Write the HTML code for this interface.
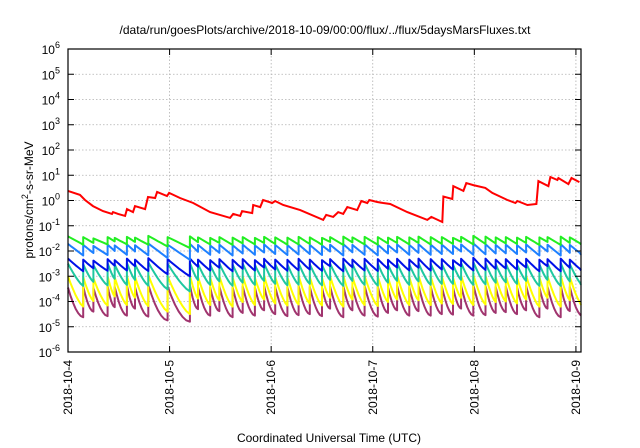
<!DOCTYPE html>
<html><head><meta charset="utf-8"><style>
html,body{margin:0;padding:0;background:#fff}
svg{display:block;font-family:"Liberation Sans",sans-serif}
</style></head><body>
<svg id="chart" width="640" height="448" viewBox="0 0 640 448">
<text x="325" y="34" font-size="12" text-anchor="middle">/data/run/goesPlots/archive/2018-10-09/00:00/flux/../flux/5daysMarsFluxes.txt</text>
<text x="329" y="442" font-size="12" text-anchor="middle">Coordinated Universal Time (UTC)</text>
<text transform="translate(33,200) rotate(-90)" font-size="12" text-anchor="middle">protons/cm<tspan dy="-5" font-size="9">2</tspan><tspan dy="5">-s-sr-MeV</tspan></text>
<g id="grid"></g>
<g id="series"></g>
<g id="axes"></g>
</svg>
<script>
const xTickLabels = ["2018-10-4","2018-10-5","2018-10-6","2018-10-7","2018-10-8","2018-10-9"];
const yTickExps = [-6,-5,-4,-3,-2,-1,0,1,2,3,4,5,6];
const redDays = [0,.118,.167,.246,.345,.433,.443,.493,.562,.581,.640,.660,.759,.788,.857,.877,.975,.995,1.103,1.232,1.399,1.596,1.626,1.695,1.714,1.813,1.823,1.892,1.921,2.010,2.039,2.118,2.286,2.512,2.542,2.611,2.660,2.709,2.749,2.847,2.887,2.946,2.966,3.044,3.103,3.172,3.340,3.537,3.576,3.685,3.695,3.783,3.793,3.892,3.921,3.990,4.108,4.177,4.325,4.404,4.424,4.522,4.611,4.631,4.729,4.749,4.818,4.828,4.926,4.956,5.034];
const redLog = [.38,.22,.02,-.22,-.42,-.53,-.46,-.53,-.61,-.34,-.46,-.22,-.34,.14,.10,.34,.18,.30,.10,-.10,-.46,-.69,-.53,-.61,-.42,-.50,-.18,-.26,.02,-.10,-.02,-.18,-.38,-.77,-.57,-.65,-.46,-.53,-.26,-.38,-.02,-.10,.02,-.06,-.10,-.14,-.46,-.77,-.65,-.85,.16,.06,.57,.38,.69,.61,.50,.30,.02,-.10,-.02,-.18,-.14,.77,.57,.93,.81,.89,.65,.89,.73];
const jumpDays = [0.0,0.15,0.25,0.39,0.46,0.58,0.66,0.79,0.98,1.20,1.28,1.40,1.49,1.62,1.72,1.84,1.93,2.04,2.16,2.27,2.38,2.50,2.58,2.71,2.80,2.92,3.05,3.15,3.24,3.36,3.45,3.57,3.68,3.79,3.87,3.99,4.11,4.21,4.31,4.42,4.51,4.64,4.72,4.85,4.94];
const endDay = 5.06;
const greenPeak = [-1.42,-1.45,-1.50,-1.45,-1.48,-1.44,-1.47,-1.40,-1.45,-1.42,-1.46,-1.48,-1.45,-1.47,-1.45,-1.48,-1.44,-1.46,-1.47,-1.44,-1.46,-1.48,-1.45,-1.43,-1.46,-1.44,-1.45,-1.47,-1.44,-1.46,-1.43,-1.45,-1.45,-1.48,-1.44,-1.40,-1.43,-1.46,-1.45,-1.47,-1.44,-1.46,-1.45,-1.43,-1.46];
const greenTrough = [-1.75,-1.68,-1.74,-1.62,-1.74,-1.64,-1.75,-1.82,-1.88,-1.65,-1.74,-1.68,-1.76,-1.70,-1.74,-1.68,-1.72,-1.75,-1.74,-1.72,-1.75,-1.64,-1.76,-1.66,-1.74,-1.75,-1.70,-1.68,-1.74,-1.68,-1.74,-1.72,-1.72,-1.64,-1.74,-1.72,-1.70,-1.70,-1.72,-1.68,-1.76,-1.64,-1.76,-1.68,-1.74];
const lblPeak = [-1.72,-1.76,-1.80,-1.75,-1.78,-1.74,-1.77,-1.70,-1.75,-1.72,-1.76,-1.78,-1.75,-1.77,-1.75,-1.78,-1.74,-1.76,-1.77,-1.74,-1.76,-1.78,-1.75,-1.73,-1.76,-1.74,-1.75,-1.77,-1.74,-1.76,-1.73,-1.75,-1.75,-1.78,-1.74,-1.70,-1.73,-1.76,-1.75,-1.77,-1.74,-1.76,-1.75,-1.73,-1.76];
const lblTrough = [-2.18,-2.08,-2.16,-2.00,-2.15,-2.02,-2.17,-2.28,-2.35,-2.03,-2.15,-2.07,-2.18,-2.10,-2.15,-2.06,-2.12,-2.16,-2.14,-2.12,-2.16,-2.02,-2.18,-2.05,-2.15,-2.17,-2.10,-2.06,-2.15,-2.07,-2.15,-2.12,-2.12,-2.02,-2.15,-2.13,-2.10,-2.09,-2.12,-2.06,-2.18,-2.02,-2.18,-2.07,-2.15];
const dbPeak = [-2.30,-2.34,-2.38,-2.32,-2.36,-2.30,-2.34,-2.28,-2.33,-2.30,-2.34,-2.36,-2.32,-2.35,-2.32,-2.36,-2.31,-2.34,-2.35,-2.31,-2.34,-2.36,-2.32,-2.30,-2.34,-2.31,-2.32,-2.35,-2.31,-2.34,-2.30,-2.32,-2.32,-2.36,-2.31,-2.27,-2.30,-2.34,-2.32,-2.35,-2.31,-2.34,-2.32,-2.30,-2.34];
const dbTrough = [-2.80,-2.68,-2.78,-2.58,-2.77,-2.60,-2.79,-2.92,-3.00,-2.62,-2.77,-2.66,-2.80,-2.70,-2.77,-2.65,-2.73,-2.78,-2.76,-2.73,-2.78,-2.60,-2.80,-2.64,-2.77,-2.79,-2.70,-2.65,-2.77,-2.66,-2.77,-2.73,-2.73,-2.60,-2.77,-2.75,-2.70,-2.69,-2.73,-2.65,-2.80,-2.60,-2.80,-2.66,-2.77];
const tealPeak = [-2.50,-2.52,-2.56,-2.48,-2.54,-2.47,-2.52,-2.45,-2.50,-2.47,-2.52,-2.54,-2.50,-2.53,-2.50,-2.54,-2.48,-2.52,-2.53,-2.48,-2.52,-2.54,-2.50,-2.47,-2.52,-2.48,-2.50,-2.53,-2.48,-2.52,-2.47,-2.50,-2.50,-2.54,-2.48,-2.44,-2.47,-2.52,-2.50,-2.53,-2.48,-2.52,-2.50,-2.47,-2.52];
const tealTrough = [-3.38,-3.22,-3.36,-3.10,-3.34,-3.14,-3.37,-3.52,-3.60,-3.15,-3.34,-3.20,-3.38,-3.25,-3.34,-3.18,-3.30,-3.36,-3.33,-3.30,-3.36,-3.14,-3.38,-3.18,-3.34,-3.37,-3.25,-3.18,-3.34,-3.20,-3.34,-3.30,-3.30,-3.14,-3.34,-3.32,-3.25,-3.24,-3.30,-3.18,-3.38,-3.14,-3.38,-3.20,-3.34];
const yelPeak = [-3.00,-3.03,-3.08,-3.00,-3.05,-2.98,-3.03,-2.95,-3.00,-2.97,-3.03,-3.05,-3.00,-3.04,-3.00,-3.05,-2.98,-3.03,-3.04,-2.98,-3.03,-3.05,-3.00,-2.97,-3.03,-2.98,-3.00,-3.04,-2.98,-3.03,-2.97,-3.00,-3.00,-3.05,-2.98,-2.94,-2.97,-3.03,-3.00,-3.04,-2.98,-3.03,-3.00,-2.97,-3.03];
const yelTrough = [-4.20,-3.98,-4.16,-3.80,-4.14,-3.85,-4.18,-4.40,-4.50,-3.88,-4.14,-3.95,-4.20,-4.02,-4.14,-3.92,-4.08,-4.16,-4.12,-4.08,-4.16,-3.85,-4.20,-3.92,-4.14,-4.18,-4.02,-3.92,-4.14,-3.95,-4.14,-4.08,-4.10,-3.85,-4.14,-4.12,-4.02,-4.00,-4.08,-3.92,-4.20,-3.85,-4.20,-3.95,-4.14];
const purPeak = [-3.45,-3.40,-3.46,-3.38,-3.42,-3.36,-3.42,-3.34,-3.40,-3.36,-3.42,-3.44,-3.40,-3.43,-3.40,-3.44,-3.37,-3.42,-3.43,-3.37,-3.42,-3.44,-3.40,-3.36,-3.42,-3.37,-3.40,-3.43,-3.37,-3.42,-3.36,-3.40,-3.40,-3.44,-3.37,-3.33,-3.36,-3.42,-3.40,-3.43,-3.37,-3.42,-3.40,-3.36,-3.42];
const purTrough = [-4.62,-4.40,-4.58,-4.22,-4.56,-4.28,-4.60,-4.75,-4.80,-4.30,-4.56,-4.38,-4.62,-4.45,-4.56,-4.35,-4.50,-4.58,-4.54,-4.50,-4.58,-4.28,-4.62,-4.35,-4.56,-4.60,-4.45,-4.35,-4.56,-4.38,-4.56,-4.50,-4.52,-4.28,-4.56,-4.54,-4.45,-4.42,-4.50,-4.35,-4.62,-4.28,-4.62,-4.38,-4.56];

const L=68,R=581,T=49,B=352,XMIN=0,XMAX=5.05,YMIN=-6,YMAX=6;
const xs=d=>L+(d-XMIN)/(XMAX-XMIN)*(R-L);
const ys=v=>B-(v-YMIN)/(YMAX-YMIN)*(B-T);
const NS="http://www.w3.org/2000/svg";
function mk(tag,parent){const e=document.createElementNS(NS,tag);parent.appendChild(e);return e;}
const grid=document.getElementById('grid'),axes=document.getElementById('axes'),ser=document.getElementById('series');

yTickExps.forEach(e=>{
  const y=ys(e);
  if(e>YMIN&&e<YMAX){const g=mk('line',grid);
  
  
  g.setAttribute('x1',L);g.setAttribute('x2',R);g.setAttribute('y1',y);g.setAttribute('y2',y);
  g.setAttribute('stroke','#b0b0b0');g.setAttribute('stroke-width','0.8');g.setAttribute('stroke-dasharray','1.5,2');}
  const tk=mk('path',axes);
  
  
  tk.setAttribute('d',`M${L},${y}h6M${R},${y}h-6`);tk.setAttribute('stroke','#000');
  const t=mk('text',axes);
  
  
  t.setAttribute('x',L-8);t.setAttribute('y',y+5);t.setAttribute('font-size','12');t.setAttribute('text-anchor','end');
  t.textContent='10';const s=mk('tspan',t);s.setAttribute('dy','-6');s.setAttribute('font-size','9');s.textContent=String(e);
});
xTickLabels.forEach((lab,i)=>{
  const x=xs(i);
  if(i>0){const g=mk('line',grid);
  
  
  g.setAttribute('x1',x);g.setAttribute('x2',x);g.setAttribute('y1',T);g.setAttribute('y2',B);
  g.setAttribute('stroke','#b0b0b0');g.setAttribute('stroke-width','0.8');g.setAttribute('stroke-dasharray','1.5,2');}
  const tk=mk('path',axes);
  
  
  tk.setAttribute('d',`M${x},${B}v-6M${x},${T}v6`);tk.setAttribute('stroke','#000');
  const t=mk('text',axes);
  
  
  t.setAttribute('transform',`translate(${x+4},${B+8}) rotate(-90)`);t.setAttribute('font-size','12');t.setAttribute('text-anchor','end');
  t.textContent=lab;
});
const frame=mk('rect',axes);


frame.setAttribute('x',L);frame.setAttribute('y',T);frame.setAttribute('width',R-L);frame.setAttribute('height',B-T);
frame.setAttribute('fill','none');frame.setAttribute('stroke','#000');frame.setAttribute('stroke-width','1.2');

function sawPath(peaks,troughs,pw){
  let d='';
  for(let i=0;i<jumpDays.length;i++){
    const t0=jumpDays[i],t1=(i+1<jumpDays.length?jumpDays[i+1]:endDay);
    const steps=6;
    for(let k=0;k<=steps;k++){
      const f=k/steps;const t=t0+(t1-t0)*f;
      const v=troughs[i]+(peaks[i]-troughs[i])*Math.pow(1-f,pw);
      const tc=Math.min(t,XMAX);
      d+=(d?'L':'M')+xs(tc).toFixed(1)+','+ys(v).toFixed(1);
    }
  }
  return d;
}
const series=[
  ['series-purple',purPeak,purTrough,'#a0346e',1.8],
  ['series-yellow',yelPeak,yelTrough,'#ffff00',1.4],
  ['series-teal',tealPeak,tealTrough,'#1ec8a0',1.3],
  ['series-dark-blue',dbPeak,dbTrough,'#0010e8',1.1],
  ['series-light-blue',lblPeak,lblTrough,'#1e80ff',1.0],
  ['series-green',greenPeak,greenTrough,'#22ee22',1.0]
];
series.forEach(s=>{
  const p=mk('path',ser);
  
  
  p.setAttribute('d',sawPath(s[1],s[2],s[4]));
  p.setAttribute('fill','none');p.setAttribute('stroke',s[3]);p.setAttribute('stroke-width','2');p.setAttribute('stroke-linejoin','round');
});
let rd='';
redDays.forEach((d,i)=>{rd+=(i?'L':'M')+xs(Math.min(d,XMAX)).toFixed(1)+','+ys(redLog[i]).toFixed(1);});
const rp=mk('path',ser);


rp.setAttribute('d',rd);rp.setAttribute('fill','none');rp.setAttribute('stroke','#ff0000');rp.setAttribute('stroke-width','2');
</script>
</body></html>
